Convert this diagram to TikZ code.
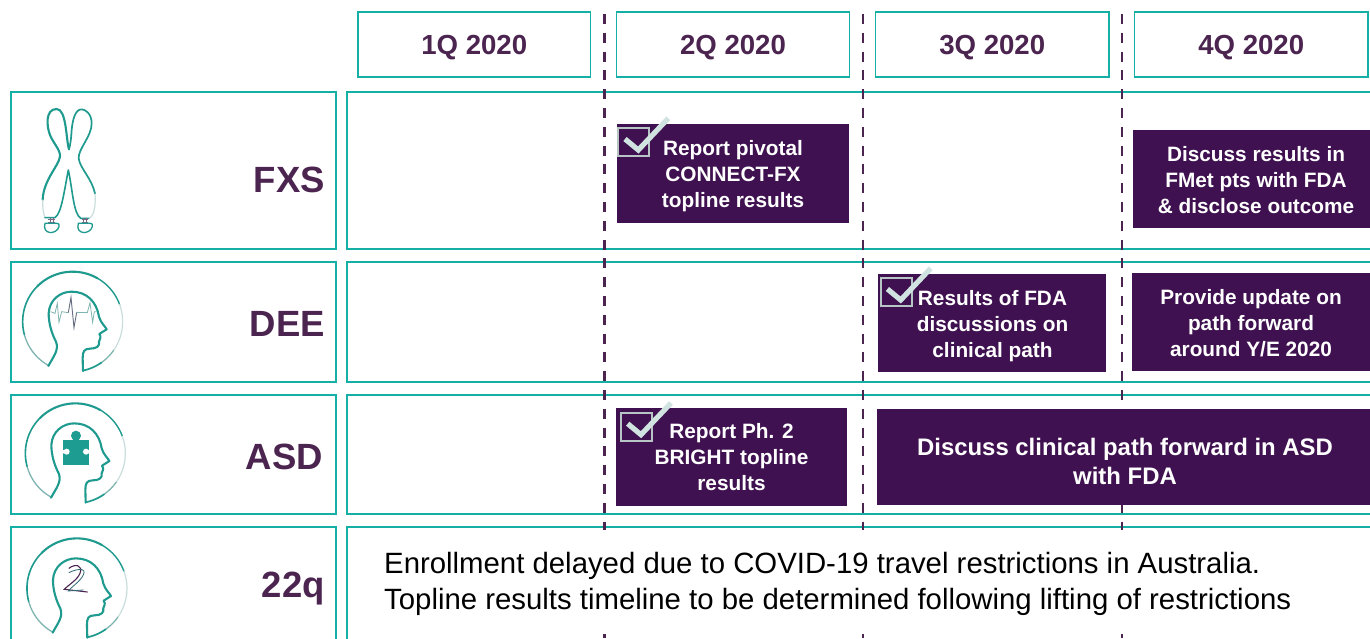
\documentclass[tikz,border=0pt]{standalone}
\usepackage{fontspec}
\setmainfont{Liberation Sans}
\definecolor{tealb}{HTML}{14AFA5}
\definecolor{teali}{HTML}{1F9A8E}
\definecolor{tealp}{HTML}{7FB5B0}
\definecolor{tealq}{HTML}{C9DEDC}
\definecolor{plum}{HTML}{4B2450}
\definecolor{plumbox}{HTML}{3F1150}
\definecolor{checkc}{HTML}{D0E3E0}
\tikzset{
  x=1pt,y=-1pt,
  headerbox/.style={draw=tealb,line width=1.4pt,fill=white,inner sep=0pt,font=\fontsize{27.6}{32}\selectfont\bfseries,text=plum,text height=19.8pt,text depth=0pt},
  rowbox/.style={draw=tealb,line width=1.4pt,inner sep=0pt},
  rowlabel/.style={anchor=base east,inner sep=0pt,font=\fontsize{36.5}{40}\selectfont\bfseries,text=plum},
  taskbox/.style={fill=plumbox,inner sep=0pt},
  tasktext/.style={anchor=base,inner sep=0pt,align=center,text=white,font=\fontsize{20.8}{26}\selectfont\bfseries},
  divider/.style={draw=plum,line width=2.3pt,dash pattern=on 10pt off 8.8pt},
  iconline/.style={draw=teali,line width=2pt,line join=round,line cap=round},
  bodytext/.style={anchor=base west,inner sep=0pt,text=black,font=\fontsize{29.35}{35.5}\selectfont},
}
\newcommand{\headicon}[2]{%
  \begin{scope}[shift={(#1pt,{-(#2pt)})},x=0.3333pt,y=-0.3333pt]
    \draw[iconline,draw=tealp,line width=1.3pt] plot[domain=118.8:165,samples=20,variable=\t] ({218+150*cos(\t)},{185+150*sin(\t)});
    \draw[iconline,line width=1.6pt] plot[domain=165:225,samples=20,variable=\t] ({218+150*cos(\t)},{185+150*sin(\t)});
    \draw[iconline,line width=2.1pt] plot[domain=225:300,samples=20,variable=\t] ({218+150*cos(\t)},{185+150*sin(\t)});
    \draw[iconline,line width=1.4pt] plot[domain=300:340,samples=20,variable=\t] ({218+150*cos(\t)},{185+150*sin(\t)});
    \draw[iconline,draw=tealq,line width=1.2pt] plot[domain=340:395,samples=20,variable=\t] ({218+150*cos(\t)},{185+150*sin(\t)});
    \draw[iconline,draw=tealp,line width=1.3pt] plot[domain=395:415,samples=12,variable=\t] ({218+150*cos(\t)},{185+150*sin(\t)});
    \draw[iconline,line width=1.7pt] plot[domain=415:437.8,samples=12,variable=\t] ({218+150*cos(\t)},{185+150*sin(\t)});
    \draw[iconline,line width=2.1pt] (145,318) .. controls (160,290) and (178,270) .. (168,245)
      .. controls (155,220) and (146,190) .. (146,160)
      .. controls (148,120) and (180,95) .. (215,95)
      .. controls (260,95) and (290,125) .. (297,170)
      .. controls (303,190) and (315,198) .. (320,208)
      -- (298,222) .. controls (306,232) and (298,238) .. (297,245)
      .. controls (300,258) and (290,266) .. (270,266)
      .. controls (252,266) and (248,275) .. (248,295) -- (249,333);
  \end{scope}}
\newcommand{\checkicon}[2]{%
  \begin{scope}[shift={(#1pt,{-(#2pt)})}]
    \draw[draw=tealq!75!gray,line width=2.1pt] (0,0) rectangle (31,28);
    \draw[draw=checkc,line width=5.2pt,line join=miter] (6.7,10.7) -- (20,21.7) -- (50,-10);
  \end{scope}}
\begin{document}
\begin{tikzpicture}
\useasboundingbox (0,0) rectangle (1370,638);
\clip (0,0) rectangle (1370,638);
\fill[white] (0,0) rectangle (1370,638);
% row boxes
\node[rowbox,minimum width=325pt,minimum height=157pt] (rowFXS) at (173.5,170.5) {};
\node[rowbox,minimum width=325pt,minimum height=120pt] (rowDEE) at (173.5,322) {};
\node[rowbox,minimum width=325pt,minimum height=119pt] (rowASD) at (173.5,454.5) {};
\node[rowbox,minimum width=325pt,minimum height=130pt] (rowQ) at (173.5,592) {};
\node[rowbox,minimum width=1040pt,minimum height=157pt] (tlFXS) at (867,170.5) {};
\node[rowbox,minimum width=1040pt,minimum height=120pt] (tlDEE) at (867,322) {};
\node[rowbox,minimum width=1040pt,minimum height=119pt] (tlASD) at (867,454.5) {};
\node[rowbox,minimum width=1040pt,minimum height=130pt] (tlQ) at (867,592) {};
% dividers
\coordinate (d1a) at (604.4,14); \coordinate (d1b) at (604.4,638);
\coordinate (d2a) at (862.8,14); \coordinate (d2b) at (862.8,638);
\coordinate (d3a) at (1122.2,14); \coordinate (d3b) at (1122.2,638);
\draw[divider] (d1a) -- (d1b);
\draw[divider] (d2a) -- (d2b);
\draw[divider] (d3a) -- (d3b);
% cover of 22q band
\fill[white] (349,530) rectangle (1372,631);
% headers
\node[headerbox,minimum width=232.5pt,minimum height=65pt] (q1) at (474.25,44.5) {1Q 2020};
\node[headerbox,minimum width=233pt,minimum height=65pt] (q2) at (733,44.5) {2Q 2020};
\node[headerbox,minimum width=233.5pt,minimum height=65pt] (q3) at (992.25,44.5) {3Q 2020};
\node[headerbox,minimum width=233.5pt,minimum height=65pt] (q4) at (1251.25,44.5) {4Q 2020};
% row labels
\node[rowlabel] (lFXS) at (325,192) {FXS};
\node[rowlabel] (lDEE) at (325,336) {DEE};
\node[rowlabel] (lASD) at (323,469) {ASD};
\node[rowlabel] (lQ) at (325,597) {22q};
% task boxes
\node[taskbox,minimum width=231.5pt,minimum height=99pt] (b1) at (732.75,173.5) {};
\node[taskbox,minimum width=237pt,minimum height=98pt] (b2) at (1251.5,179) {};
\node[taskbox,minimum width=228pt,minimum height=98.5pt] (b3) at (992,322.75) {};
\node[taskbox,minimum width=238pt,minimum height=98pt] (b4) at (1251,322) {};
\node[taskbox,minimum width=231pt,minimum height=98pt] (b5) at (731.5,457) {};
\node[taskbox,minimum width=493pt,minimum height=96pt] (b6) at (1123.5,457) {};
\node[tasktext] (t1) at (733,207.7) {Report pivotal\\CONNECT-FX\\topline results};
\node[tasktext] (t2) at (1256,213.7) {Discuss results in\\FMet pts with FDA\\\& disclose outcome};
\node[tasktext] (t3) at (992.5,357) {Results of FDA\\discussions on\\clinical path};
\node[tasktext] (t4) at (1251,356.3) {Provide update on\\path forward\\around Y/E 2020};
\node[tasktext] (t5) at (731.5,490.5) {Report Ph. 2\\BRIGHT topline\\results};
\node[tasktext,font=\fontsize{23.9}{29}\selectfont\bfseries] (t6) at (1125,484.5) {Discuss clinical path forward in ASD\\with FDA};
\checkicon{618.3}{128.3}
\checkicon{880.7}{278.3}
\checkicon{621}{413}
% body text
\node[bodytext] (body1) at (384,573.5) {Enrollment delayed due to COVID-19 travel restrictions in Australia.};
\node[bodytext] (body2) at (384,609) {Topline results timeline to be determined following lifting of restrictions};
% chromosome
\begin{scope}[shift={(0pt,-90pt)},x=0.3333pt,y=-0.3333pt]
  \draw[iconline,line width=2.1pt] (207,178) .. controls (198,150) and (200,57) .. (170,57)
     .. controls (135,57) and (140,110) .. (150,135) .. controls (160,160) and (182,180) .. (180,200)
     .. controls (175,230) and (130,270) .. (128,330);
  \draw[iconline,draw=tealq,line width=1.2pt] (128,330) .. controls (127,350) and (130,370) .. (135,383);
  \draw[iconline,line width=1.6pt] (135,383) -- (165,383) .. controls (185,370) and (193,300) .. (205,240)
     .. controls (218,300) and (220,370) .. (242,385) -- (268,385);
  \draw[iconline,draw=tealq,line width=1.2pt] (268,385) .. controls (285,375) and (287,340) .. (285,310);
  \draw[iconline,line width=1.7pt] (285,310) .. controls (275,265) and (240,235) .. (236,205)
     .. controls (235,175) and (275,140) .. (275,100) .. controls (275,70) and (255,58) .. (245,58)
     .. controls (225,58) and (218,90) .. (215,120) .. controls (213,150) and (211,165) .. (207,178);
  \draw[draw=plum!70!white,line width=.7pt] (145,388) -- (165,388) (145,398) -- (165,398) (150,385) -- (150,400) (160,385) -- (160,400)
     (245,388) -- (265,388) (245,398) -- (265,398) (250,385) -- (250,400) (260,385) -- (260,400);
  \draw[iconline,line width=1.3pt] (135,400) .. controls (125,435) and (170,435) .. (177,410) .. controls (180,402) and (175,400) .. (170,400) -- cycle;
  \draw[iconline,line width=1.3pt] (235,400) .. controls (225,435) and (270,435) .. (277,410) .. controls (280,402) and (275,400) .. (270,400) -- cycle;
\end{scope}
% head icons
\headicon{0}{260}
\begin{scope}[shift={(0pt,-260pt)},x=0.3333pt,y=-0.3333pt]
  \draw[draw=tealp,line width=.8pt] (152,155) -- (165,160) -- (172,130) -- (177,187) -- (185,155) -- (205,158);
  \draw[draw=plum!50!tealp,line width=.9pt] (205,158) -- (213,112) -- (222,203) -- (230,157);
  \draw[draw=tealp,line width=.8pt] (230,157) -- (262,158) -- (270,128) -- (278,187) -- (283,155) -- (290,155);
\end{scope}
\headicon{2.7}{391.7}
\begin{scope}[shift={(0pt,-390pt)},x=0.3333pt,y=-0.3333pt]
  \fill[teali!85!tealb] (190,150) rectangle (268,225);
  \fill[teali!85!tealb] (228,137) circle[radius=15];
  \fill[teali!85!tealb] (220,140) rectangle (236,152);
  \fill[white] (200,185) circle[radius=9] (258,185) circle[radius=9];
  \fill[white] (188,180) rectangle (200,190) (258,180) rectangle (270,190);
\end{scope}
\headicon{4.3}{526.7}
\begin{scope}[shift={(0pt,-390pt)},x=0.3333pt,y=-0.3333pt]
  \draw[draw=plum,line width=1.1pt,line cap=round] (207,535) .. controls (225,520) and (250,525) .. (240,550) .. controls (232,570) and (205,585) .. (193,598) -- (262,606);
  \draw[draw=teali!60!plum,line width=.8pt,line cap=round] (207,548) .. controls (225,538) and (262,530) .. (250,555) .. controls (240,575) and (215,590) .. (205,603) -- (250,600);
\end{scope}
\end{tikzpicture}
\end{document}
